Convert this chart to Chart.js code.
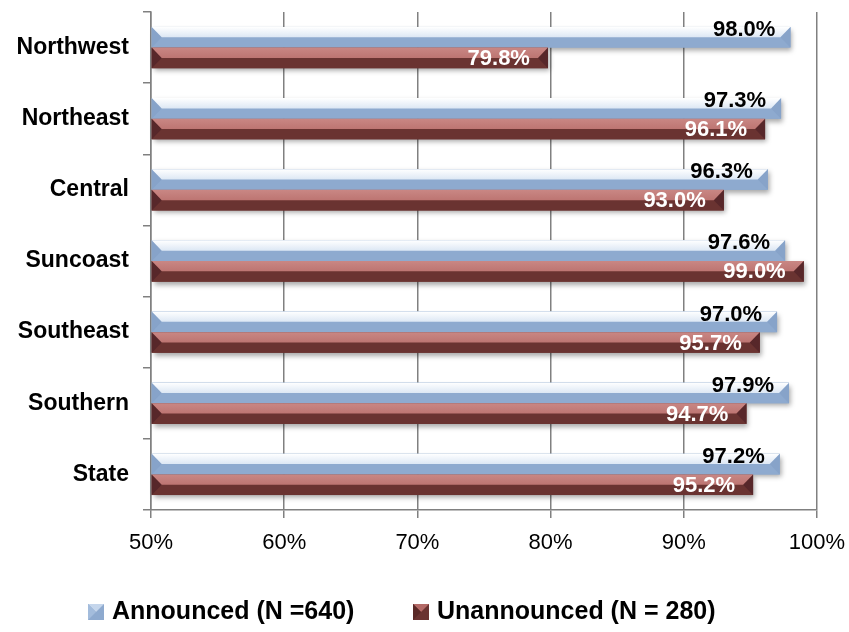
<!DOCTYPE html>
<html>
<head>
<meta charset="utf-8">
<script src="https://cdn.jsdelivr.net/npm/chart.js@4/dist/chart.umd.min.js"></script>
<style>
  html, body { margin: 0; padding: 0; background: #fff; }
  canvas { display: block; }
</style>
</head>
<body>
<canvas id="chart" width="849" height="632"></canvas>
<script>
const regions = ['Northwest', 'Northeast', 'Central', 'Suncoast', 'Southeast', 'Southern', 'State'];
const announced = [98.0, 97.3, 96.3, 97.6, 97.0, 97.9, 97.2];
const unannounced = [79.8, 96.1, 93.0, 99.0, 95.7, 94.7, 95.2];
const seriesNames = ['Announced (N =640)', 'Unannounced (N = 280)'];
const xTicks = [50, 60, 70, 80, 90, 100];

const FONT = '"Liberation Sans", Arial, sans-serif';
const GRID = '#808080';

// colours for the two bar series: top face, front face, end caps, label
const looks = [
    { top: ['#ffffff', '#dce7f4'], front: '#8eaacf', cap: '#87a3c9', text: '#000000' },
    { top: ['#c98784', '#bd7572'], front: '#6a3331', cap: '#57272a', text: '#ffffff' }
];

function pct(v) {
    return v.toFixed(1) + '%';
}

// soft shadow under every bar
function drawShadows(chart) {
    const ctx = chart.ctx;
    ctx.save();
    chart.data.datasets.forEach((ds, i) => {
        chart.getDatasetMeta(i).data.forEach(bar => {
            const p = bar.getProps(['x', 'y', 'base', 'height'], true);
            ctx.shadowColor = 'rgba(0,0,0,0.35)';
            ctx.shadowBlur = 5;
            ctx.shadowOffsetX = 2;
            ctx.shadowOffsetY = 3;
            ctx.fillStyle = looks[i].front;
            ctx.fillRect(p.base, p.y - p.height / 2, p.x - p.base, p.height);
        });
    });
    ctx.restore();
}

// light top face plus bevelled end caps on top of the plain bars
function drawFaces(chart) {
    const ctx = chart.ctx;
    const d = 10;
    ctx.save();
    chart.data.datasets.forEach((ds, i) => {
        const look = looks[i];
        chart.getDatasetMeta(i).data.forEach(bar => {
            const p = bar.getProps(['x', 'y', 'base', 'height'], true);
            const y0 = p.y - p.height / 2;
            const y1 = p.y + p.height / 2;
            const mid = p.y;
            const x0 = p.base;
            const x1 = p.x;

            // end caps
            ctx.fillStyle = look.cap;
            ctx.beginPath();
            ctx.moveTo(x0, y0); ctx.lineTo(x0 + d, mid); ctx.lineTo(x0, y1);
            ctx.closePath(); ctx.fill();
            ctx.beginPath();
            ctx.moveTo(x1, y0); ctx.lineTo(x1 - d, mid); ctx.lineTo(x1, y1);
            ctx.closePath(); ctx.fill();

            // top face
            const g = ctx.createLinearGradient(0, y0, 0, mid);
            g.addColorStop(0, look.top[0]);
            g.addColorStop(1, look.top[1]);
            ctx.fillStyle = g;
            ctx.beginPath();
            ctx.moveTo(x0, y0); ctx.lineTo(x1, y0);
            ctx.lineTo(x1 - d, mid); ctx.lineTo(x0 + d, mid);
            ctx.closePath(); ctx.fill();
        });
    });
    ctx.restore();
}

function drawLabels(chart) {
    const ctx = chart.ctx;
    ctx.save();
    ctx.font = 'bold 22px ' + FONT;
    ctx.textAlign = 'right';
    ctx.textBaseline = 'middle';
    chart.data.datasets.forEach((ds, i) => {
        ctx.fillStyle = looks[i].text;
        chart.getDatasetMeta(i).data.forEach((bar, j) => {
            const p = bar.getProps(['x', 'y', 'height'], true);
            if (i === 0) {
                ctx.fillText(pct(ds.data[j]), p.x - 15, p.y - p.height / 2 + 3);
            } else {
                ctx.fillText(pct(ds.data[j]), p.x - 18, p.y + 1);
            }
        });
    });
    ctx.restore();
}

function legendMarker(ctx, x, y, s, look) {
    ctx.fillStyle = look.front;
    ctx.fillRect(x, y, s, s);
    ctx.fillStyle = look.top;
    ctx.beginPath();
    ctx.moveTo(x, y); ctx.lineTo(x + s, y); ctx.lineTo(x + s / 2, y + s / 2);
    ctx.closePath(); ctx.fill();
    ctx.fillStyle = look.cap;
    ctx.beginPath();
    ctx.moveTo(x, y); ctx.lineTo(x + s / 2, y + s / 2); ctx.lineTo(x, y + s);
    ctx.closePath(); ctx.fill();
}

function drawLegend(chart) {
    const ctx = chart.ctx;
    const legendLooks = [
        { front: '#8eaacf', top: '#c5d6ec', cap: '#a3bcdc' },
        { front: '#6a3331', top: '#b46a67', cap: '#5a2927' }
    ];
    const starts = [88, 413];
    ctx.save();
    ctx.font = 'bold 25px ' + FONT;
    ctx.textAlign = 'left';
    ctx.textBaseline = 'middle';
    seriesNames.forEach((name, i) => {
        legendMarker(ctx, starts[i], 604, 16, legendLooks[i]);
        ctx.fillStyle = '#000';
        ctx.fillText(name, starts[i] + 24, 612);
    });
    ctx.restore();
}

const bevelBars = {
    id: 'bevelBars',
    beforeDatasetsDraw: drawShadows,
    afterDatasetsDraw(chart) {
        drawFaces(chart);
        drawLabels(chart);
    },
    afterDraw: drawLegend
};

new Chart(document.getElementById('chart'), {
    type: 'bar',
    data: {
        labels: regions,
        datasets: [
            { label: seriesNames[0], data: announced, base: 50, backgroundColor: looks[0].front },
            { label: seriesNames[1], data: unannounced, base: 50, backgroundColor: looks[1].front }
        ]
    },
    options: {
        indexAxis: 'y',
        responsive: false,
        animation: false,
        categoryPercentage: 0.58,
        barPercentage: 1,
        layout: { padding: { top: 12, right: 32, left: 0, bottom: 0 } },
        plugins: {
            legend: { display: false },
            tooltip: { enabled: false }
        },
        scales: {
            x: {
                min: 50,
                max: 100,
                afterBuildTicks: s => { s.ticks = xTicks.map(v => ({ value: v })); },
                afterFit: s => {
                    s.height = 122;
                    s.paddingLeft = 0;
                    s.paddingRight = 0;
                },
                grid: { color: GRID, lineWidth: 1.5, tickLength: 8 },
                border: { color: GRID, width: 1.5 },
                ticks: {
                    padding: 12,
                    color: '#000',
                    font: { family: FONT, size: 22 },
                    callback: v => v + '%'
                }
            },
            y: {
                afterFit: s => {
                    s.width = 151;
                    s.paddingTop = 0;
                    s.paddingBottom = 0;
                },
                grid: { offset: true, drawOnChartArea: false, color: GRID, lineWidth: 1.5, tickLength: 8 },
                border: { color: GRID, width: 1.5 },
                ticks: {
                    padding: 14,
                    color: '#000',
                    font: { family: FONT, size: 23, weight: 'bold' }
                }
            }
        }
    },
    plugins: [bevelBars]
});
</script>
</body>
</html>
